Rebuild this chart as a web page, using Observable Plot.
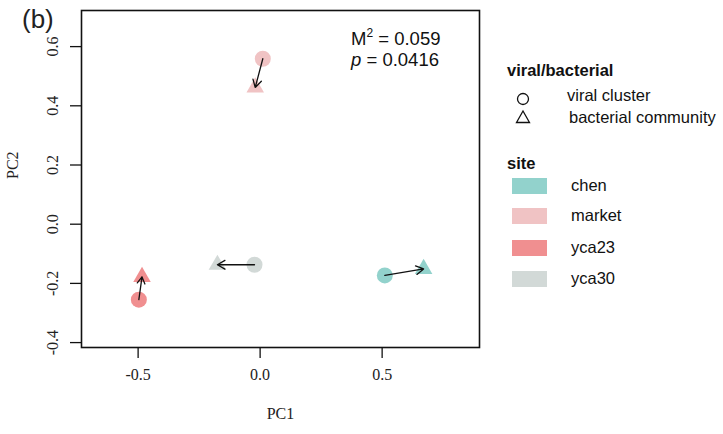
<!DOCTYPE html>
<html><head><meta charset="utf-8">
<script src="https://cdn.jsdelivr.net/npm/d3@7"></script>
<script src="https://cdn.jsdelivr.net/npm/@observablehq/plot@0.6"></script>
<style>
body{margin:0;background:#fff;}
#wrap{position:relative;width:723px;height:434px;overflow:hidden;font-family:"Liberation Sans",Arial,sans-serif;}
#wrap > svg{position:absolute;left:0;top:0;}
.abs{position:absolute;white-space:nowrap;color:#111;line-height:1;}
</style></head>
<body><div id="wrap"></div>
<script>
const sites = ["chen","market","yca23","yca30"];
const siteColors = ["#92d2cc","#f0c3c4","#f08f90","#d2d9d7"];
const viralPC1 = [0.511, 0.011, -0.497, -0.023];
const viralPC2 = [-0.173, 0.559, -0.255, -0.137];
const bactPC1 = [0.67, -0.02, -0.484, -0.175];
const bactPC2 = [-0.151, 0.462, -0.178, -0.137];
const xTicks = [-0.5, 0, 0.5];
const yTicks = [-0.4, -0.2, 0, 0.2, 0.4, 0.6];
const typeLabels = ["viral cluster","bacterial community"];

const viral = sites.map((s,i)=>({site:s,x:viralPC1[i],y:viralPC2[i]}));
const bact = sites.map((s,i)=>({site:s,x:bactPC1[i],y:bactPC2[i]}));
const links = sites.map((s,i)=>({x1:viralPC1[i],y1:viralPC2[i],x2:bactPC1[i],y2:bactPC2[i]}));
const fmt = d => d3.format(".1f")(d).replace("\u2212","-");
const serif = "'Liberation Serif','Times New Roman',serif";

const chart = Plot.plot({
  width:723, height:434,
  marginLeft:81, marginRight:244, marginTop:10, marginBottom:87,
  x:{domain:[-0.732,0.899], axis:null},
  y:{domain:[-0.4166,0.722], axis:null},
  color:{domain:sites, range:siteColors},
  style:{fontFamily:serif, fontSize:"16px", color:"#111", background:"transparent"},
  marks:[
    Plot.dot(viral,{x:"x",y:"y",fill:"site",r:8,symbol:"circle"}),
    Plot.dot(bact,{x:"x",y:"y",fill:"site",r:6.5,symbol:"triangle"}),
    Plot.arrow(links,{x1:"x1",y1:"y1",x2:"x2",y2:"y2",stroke:"#111",strokeWidth:1.3,headLength:10,bend:0}),
    Plot.frame({stroke:"#111",strokeWidth:1.6}),
    Plot.axisX(xTicks,{tickSize:11,tickFormat:()=>"",strokeWidth:1.3,label:null}),
    Plot.axisY(yTicks,{tickSize:11,tickFormat:()=>"",strokeWidth:1.3,label:null}),
    Plot.text(xTicks,{x:d=>d,frameAnchor:"bottom",dy:32,text:fmt,fontSize:16,fontFamily:serif,fill:"#222"}),
    Plot.text(yTicks,{y:d=>d,frameAnchor:"left",dx:-29,rotate:-90,text:fmt,textAnchor:"middle",lineAnchor:"middle",fontSize:16,fontFamily:serif,fill:"#222"}),
    Plot.text(["PC1"],{frameAnchor:"bottom",dy:71,text:d=>d,fontSize:16,fontFamily:serif,fill:"#222"}),
    Plot.text(["PC2"],{frameAnchor:"left",dx:-69,rotate:-90,text:d=>d,fontSize:16,lineAnchor:"middle",fontFamily:serif,fill:"#222"})
  ]
});
const wrap = document.getElementById("wrap");
wrap.appendChild(chart);

function add(html, css){ const d=document.createElement("div"); d.className="abs"; d.innerHTML=html; Object.assign(d.style,css); wrap.appendChild(d); return d; }
add("(b)",{left:"22px",top:"6px",fontSize:"26px",color:"#222"});
add("M<sup style='font-size:12px;vertical-align:8px'>2</sup> = 0.059",{left:"351px",top:"27px",fontSize:"18.5px"});
add("<i>p</i> = 0.0416",{left:"351px",top:"51px",fontSize:"18.5px"});
add("<b>viral/bacterial</b>",{left:"507px",top:"62px",fontSize:"16.5px"});
add(typeLabels[0],{left:"567px",top:"87px",fontSize:"16.5px"});
add(typeLabels[1],{left:"569px",top:"109px",fontSize:"16.5px"});
add('<svg width="16" height="16" style="display:block"><circle cx="8" cy="8" r="5.5" fill="none" stroke="#111" stroke-width="1.3"/></svg>',{left:"515px",top:"91px"});
add('<svg width="18" height="16" style="display:block"><path d="M9,2 L15.5,13.5 L2.5,13.5 Z" fill="none" stroke="#111" stroke-width="1.3"/></svg>',{left:"514px",top:"109px"});
add("<b>site</b>",{left:"507px",top:"155px",fontSize:"16.5px"});
const swTop=[178,208,240,271];
sites.forEach((s,i)=>{
  add("",{left:"512px",top:swTop[i]+"px",width:"35px",height:"16px",background:siteColors[i]});
  add(s,{left:"571px",top:(swTop[i]-1)+"px",fontSize:"16.5px"});
});
</script></body></html>
